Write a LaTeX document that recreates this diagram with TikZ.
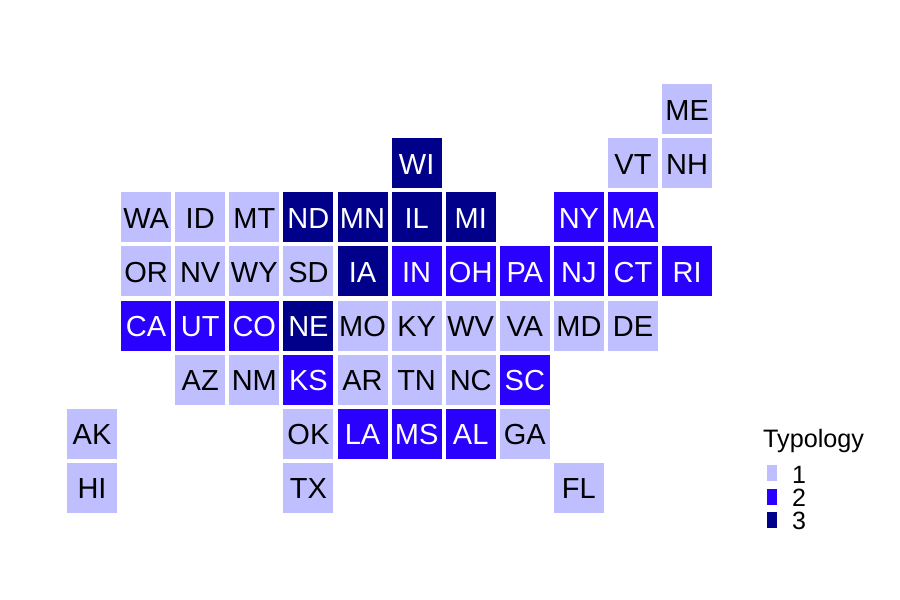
\documentclass[tikz,border=0pt]{standalone}
\usepackage{fontspec}
\setmainfont{Liberation Sans}
\definecolor{ty1}{HTML}{BFBFFF}
\definecolor{ty2}{HTML}{2A00FF}
\definecolor{ty3}{HTML}{00008B}
\tikzset{
  tile/.style={minimum width=50pt,minimum height=50pt,inner sep=0pt,outer sep=0pt,text height=22pt,text depth=0pt,font=\fontsize{29}{29}\selectfont},
  t1/.style={tile,fill=ty1,text=black},
  t2/.style={tile,fill=ty2,text=white},
  t3/.style={tile,fill=ty3,text=white},
  key/.style={minimum width=10pt,minimum height=16pt,inner sep=0pt,outer sep=0pt},
  keytext/.style={inner sep=0pt,font=\fontsize{25}{25}\selectfont,text=black},
}
\begin{document}
\begin{tikzpicture}[x=1pt,y=-1pt]
\useasboundingbox (0,0) rectangle (900,600);
\foreach \s/\c/\r/\k in {
ME/11/0/1,
WI/6/1/3,VT/10/1/1,NH/11/1/1,
WA/1/2/1,ID/2/2/1,MT/3/2/1,ND/4/2/3,MN/5/2/3,IL/6/2/3,MI/7/2/3,NY/9/2/2,MA/10/2/2,
OR/1/3/1,NV/2/3/1,WY/3/3/1,SD/4/3/1,IA/5/3/3,IN/6/3/2,OH/7/3/2,PA/8/3/2,NJ/9/3/2,CT/10/3/2,RI/11/3/2,
CA/1/4/2,UT/2/4/2,CO/3/4/2,NE/4/4/3,MO/5/4/1,KY/6/4/1,WV/7/4/1,VA/8/4/1,MD/9/4/1,DE/10/4/1,
AZ/2/5/1,NM/3/5/1,KS/4/5/2,AR/5/5/1,TN/6/5/1,NC/7/5/1,SC/8/5/2,
AK/0/6/1,OK/4/6/1,LA/5/6/2,MS/6/6/2,AL/7/6/2,GA/8/6/1,
HI/0/7/1,TX/4/7/1,FL/9/7/1}
{
  \node[t\k] (\s) at ({92+54.1*\c},{109+54.14*\r}) {\s};
}
\node[anchor=base west,inner sep=0pt,font=\fontsize{25.2}{25.2}\selectfont] (title) at (763,447) {Typology};
\node[key,fill=ty1] (k1) at (772,473) {};
\node[key,fill=ty2] (k2) at (772,496.5) {};
\node[key,fill=ty3] (k3) at (772,519.5) {};
\node[keytext] (l1) at (799,474.5) {1};
\node[keytext] (l2) at (799,498) {2};
\node[keytext] (l3) at (799,521) {3};
\end{tikzpicture}
\end{document}
